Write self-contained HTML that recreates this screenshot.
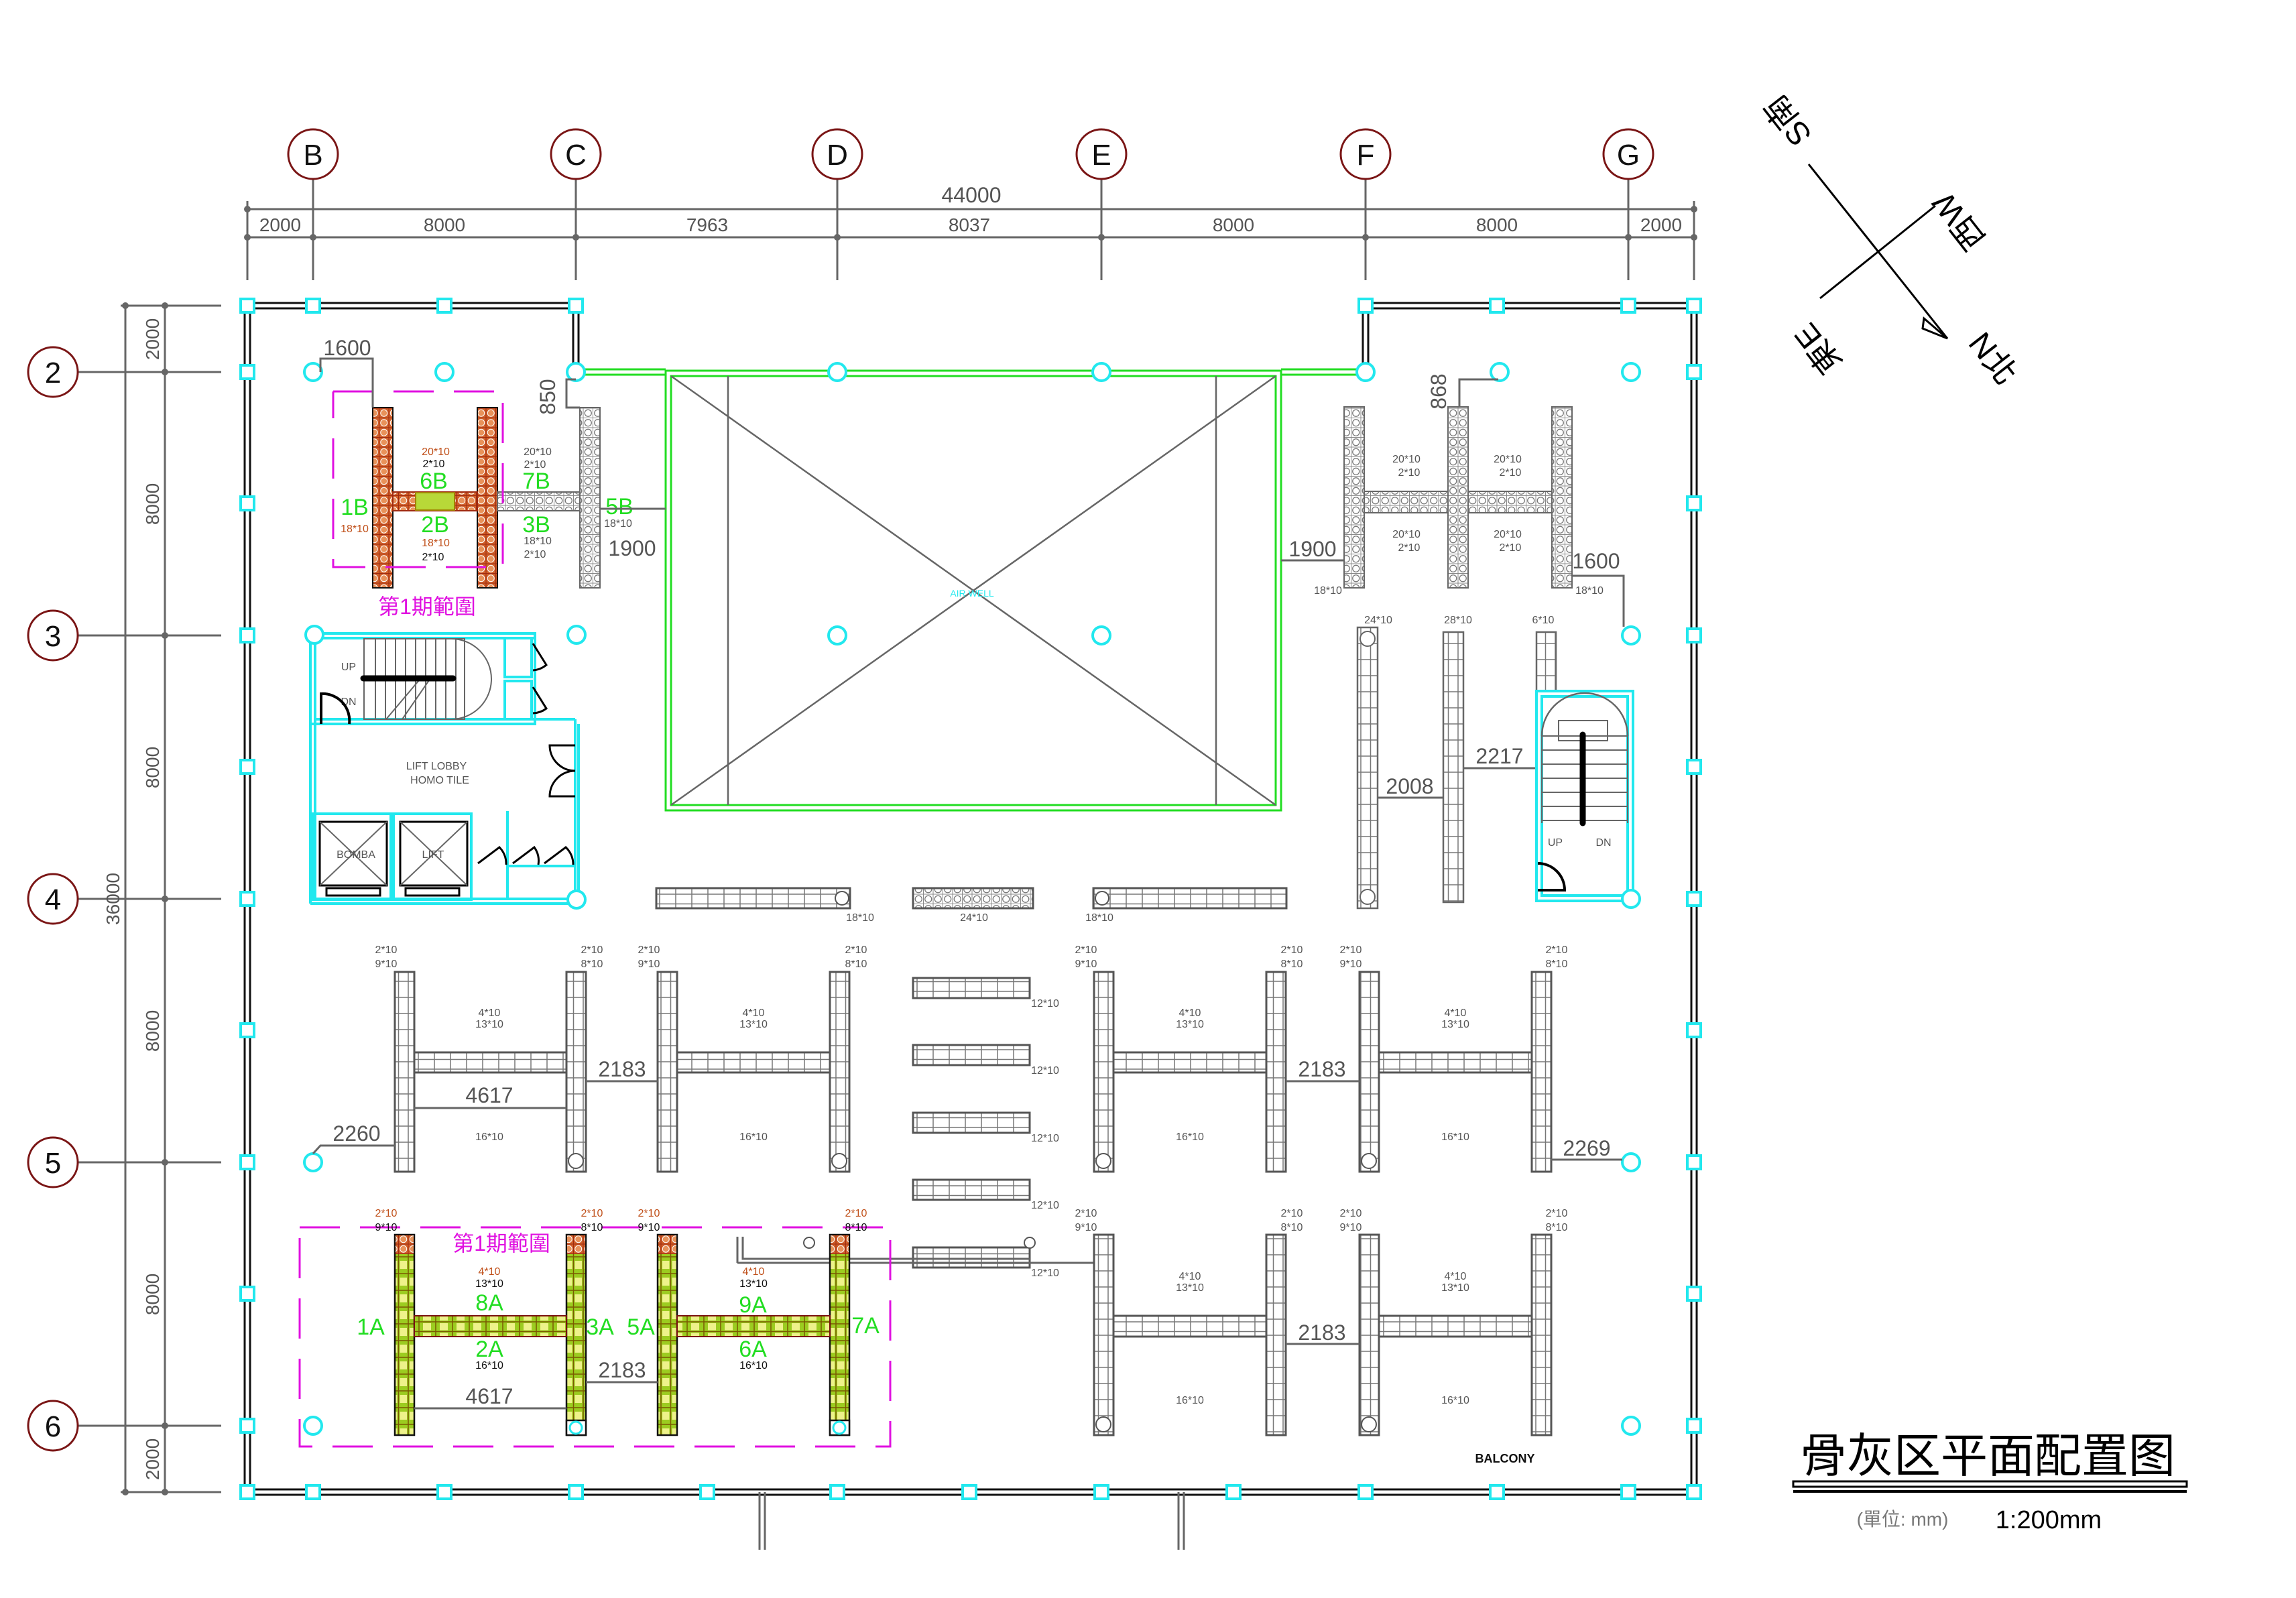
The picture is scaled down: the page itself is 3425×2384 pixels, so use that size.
<!DOCTYPE html>
<html><head><meta charset="utf-8"><style>
html,body{margin:0;padding:0;background:#fff}
svg{display:block}
text{font-family:"Liberation Sans Narrow","Liberation Sans","Noto Sans CJK TC",sans-serif}
.d{fill:#555;font-size:32px;text-anchor:middle}
.s{fill:#555;font-size:16px;text-anchor:middle}
.so{fill:#c0501a;font-size:16px;text-anchor:middle}
.sk{fill:#111;font-size:16px;text-anchor:middle}
.g{fill:#22dd22;font-size:34px;text-anchor:middle}
.m{fill:#e010e0;font-size:32px;text-anchor:middle;font-family:"Liberation Sans","Noto Sans CJK TC",sans-serif}
.b{fill:#111;font-size:44px;text-anchor:middle}
.dl{stroke:#666;stroke-width:3;fill:none}
.cy{stroke:#22e8ee;stroke-width:4;fill:none}
.cyc{stroke:#22e8ee;stroke-width:4;fill:#fff}
.rk{stroke:#555;stroke-width:3}
</style></head><body>
<svg width="3425" height="2384" viewBox="0 0 3425 2384" xmlns="http://www.w3.org/2000/svg">
<defs>
<pattern id="pg" width="14.5" height="24" patternUnits="userSpaceOnUse"><rect width="14.5" height="24" fill="#fff" stroke="#777" stroke-width="1.5"/></pattern>
<pattern id="pgh" width="24" height="14.5" patternUnits="userSpaceOnUse"><rect width="24" height="14.5" fill="#fff" stroke="#777" stroke-width="1.5"/></pattern>
<pattern id="pc" width="14.5" height="14.5" patternUnits="userSpaceOnUse"><rect width="14.5" height="14.5" fill="#fff" stroke="#888" stroke-width="1"/><circle cx="7.25" cy="7.25" r="5" fill="none" stroke="#777" stroke-width="1.3"/></pattern>
<pattern id="po" width="14.5" height="14.5" patternUnits="userSpaceOnUse"><rect width="14.5" height="14.5" fill="#d0602a" stroke="#a02a10" stroke-width="1"/><circle cx="7.25" cy="7.25" r="5" fill="#e8925a" stroke="#fff" stroke-width="1"/></pattern>
<pattern id="pgr" width="14.5" height="25" patternUnits="userSpaceOnUse"><rect width="14.5" height="25" fill="#9ccc20" stroke="#7a5a00" stroke-width="1.5"/><rect x="2" y="6" width="10.5" height="12" fill="#eef28a"/></pattern>
<pattern id="pgrh" width="25" height="14.5" patternUnits="userSpaceOnUse"><rect width="25" height="14.5" fill="#9ccc20" stroke="#7a5a00" stroke-width="1.5"/><rect x="6" y="2" width="12" height="10.5" fill="#eef28a"/></pattern>
</defs>

<!-- dimension lines top -->
<g class="dl">
<line x1="369" y1="312" x2="2527" y2="312"/><line x1="369" y1="354" x2="2527" y2="354"/>
<line x1="369" y1="300" x2="369" y2="418"/><line x1="467" y1="267" x2="467" y2="418"/>
<line x1="859" y1="267" x2="859" y2="418"/><line x1="1249" y1="267" x2="1249" y2="418"/>
<line x1="1643" y1="267" x2="1643" y2="418"/><line x1="2037" y1="267" x2="2037" y2="418"/>
<line x1="2429" y1="267" x2="2429" y2="418"/><line x1="2527" y1="300" x2="2527" y2="418"/>
<line x1="187" y1="456" x2="187" y2="2226"/><line x1="246" y1="456" x2="246" y2="2226"/>
<line x1="180" y1="456" x2="330" y2="456"/><line x1="116" y1="555" x2="330" y2="555"/>
<line x1="116" y1="948" x2="330" y2="948"/><line x1="116" y1="1341" x2="330" y2="1341"/>
<line x1="116" y1="1734" x2="330" y2="1734"/><line x1="116" y1="2127" x2="330" y2="2127"/>
<line x1="180" y1="2226" x2="330" y2="2226"/>
</g>
<g fill="#666">
<circle cx="369" cy="312" r="5"/><circle cx="2527" cy="312" r="5"/>
<circle cx="369" cy="354" r="5"/><circle cx="467" cy="354" r="5"/><circle cx="859" cy="354" r="5"/><circle cx="1249" cy="354" r="5"/><circle cx="1643" cy="354" r="5"/><circle cx="2037" cy="354" r="5"/><circle cx="2429" cy="354" r="5"/><circle cx="2527" cy="354" r="5"/>
<circle cx="187" cy="456" r="5"/><circle cx="187" cy="2226" r="5"/>
<circle cx="246" cy="456" r="5"/><circle cx="246" cy="555" r="5"/><circle cx="246" cy="948" r="5"/><circle cx="246" cy="1341" r="5"/><circle cx="246" cy="1734" r="5"/><circle cx="246" cy="2127" r="5"/><circle cx="246" cy="2226" r="5"/>
</g>
<text class="d" x="1449" y="302" font-size="28">44000</text>
<g class="d" style="font-size:28px">
<text x="418" y="345">2000</text><text x="663" y="345">8000</text><text x="1055" y="345">7963</text><text x="1446" y="345">8037</text><text x="1840" y="345">8000</text><text x="2233" y="345">8000</text><text x="2478" y="345">2000</text>
</g>
<g class="d" style="font-size:28px">
<text transform="translate(237,506) rotate(-90)">2000</text>
<text transform="translate(237,752) rotate(-90)">8000</text>
<text transform="translate(237,1145) rotate(-90)">8000</text>
<text transform="translate(237,1538) rotate(-90)">8000</text>
<text transform="translate(237,1931) rotate(-90)">8000</text>
<text transform="translate(237,2177) rotate(-90)">2000</text>
<text transform="translate(178,1341) rotate(-90)">36000</text>
</g>
<g fill="#fff" stroke="#7a1515" stroke-width="3">
<circle cx="467" cy="230" r="37"/><circle cx="859" cy="230" r="37"/><circle cx="1249" cy="230" r="37"/><circle cx="1643" cy="230" r="37"/><circle cx="2037" cy="230" r="37"/><circle cx="2429" cy="230" r="37"/>
<circle cx="79" cy="555" r="37"/><circle cx="79" cy="948" r="37"/><circle cx="79" cy="1341" r="37"/><circle cx="79" cy="1734" r="37"/><circle cx="79" cy="2127" r="37"/>
</g>
<g class="b">
<text x="467" y="246">B</text><text x="859" y="246">C</text><text x="1249" y="246">D</text><text x="1643" y="246">E</text><text x="2037" y="246">F</text><text x="2429" y="246">G</text>
<text x="79" y="571">2</text><text x="79" y="964">3</text><text x="79" y="1357">4</text><text x="79" y="1750">5</text><text x="79" y="2143">6</text>
</g>

<g fill="none" stroke="#111" stroke-width="3">
<polyline points="365,2230 365,452 863,452 863,555"/>
<polyline points="373,2222 373,460 855,460 855,555"/>
<polyline points="2033,555 2033,452 2531,452 2531,2230 365,2230"/>
<polyline points="2041,555 2041,460 2523,460 2523,2222 373,2222"/>
</g>
<g stroke="#666" stroke-width="3">
<line x1="1133" y1="2226" x2="1133" y2="2312"/><line x1="1141" y1="2226" x2="1141" y2="2312"/>
<line x1="1758" y1="2226" x2="1758" y2="2312"/><line x1="1766" y1="2226" x2="1766" y2="2312"/>
</g>
<g fill="none" stroke="#22dd22" stroke-width="3">
<line x1="859" y1="551" x2="993" y2="551"/><line x1="859" y1="559" x2="993" y2="559"/>
<line x1="1911" y1="551" x2="2037" y2="551"/><line x1="1911" y1="559" x2="2037" y2="559"/>
<rect x="993" y="553" width="918" height="656"/><rect x="1001" y="561" width="902" height="640"/>
</g>
<g stroke="#666" stroke-width="2.5">
<line x1="1086" y1="561" x2="1086" y2="1201"/><line x1="1814" y1="561" x2="1814" y2="1201"/>
<line x1="1001" y1="561" x2="1903" y2="1201"/><line x1="1903" y1="561" x2="1001" y2="1201"/>
</g>
<text x="1450" y="890" fill="#22e8ee" font-size="14" text-anchor="middle">AIR WELL</text>

<g fill="#fff" stroke="#22e8ee" stroke-width="4">
<rect x="359" y="446" width="20" height="20"/><rect x="457" y="446" width="20" height="20"/><rect x="653" y="446" width="20" height="20"/><rect x="849" y="446" width="20" height="20"/>
<rect x="2027" y="446" width="20" height="20"/><rect x="2223" y="446" width="20" height="20"/><rect x="2419" y="446" width="20" height="20"/><rect x="2517" y="446" width="20" height="20"/>
<rect x="359" y="545" width="20" height="20"/><rect x="359" y="741" width="20" height="20"/><rect x="359" y="938" width="20" height="20"/><rect x="359" y="1134" width="20" height="20"/><rect x="359" y="1331" width="20" height="20"/><rect x="359" y="1527" width="20" height="20"/><rect x="359" y="1724" width="20" height="20"/><rect x="359" y="1920" width="20" height="20"/><rect x="359" y="2117" width="20" height="20"/>
<rect x="2517" y="545" width="20" height="20"/><rect x="2517" y="741" width="20" height="20"/><rect x="2517" y="938" width="20" height="20"/><rect x="2517" y="1134" width="20" height="20"/><rect x="2517" y="1331" width="20" height="20"/><rect x="2517" y="1527" width="20" height="20"/><rect x="2517" y="1724" width="20" height="20"/><rect x="2517" y="1920" width="20" height="20"/><rect x="2517" y="2117" width="20" height="20"/>
<rect x="359" y="2216" width="20" height="20"/><rect x="457" y="2216" width="20" height="20"/><rect x="653" y="2216" width="20" height="20"/><rect x="849" y="2216" width="20" height="20"/><rect x="1045" y="2216" width="20" height="20"/><rect x="1239" y="2216" width="20" height="20"/><rect x="1436" y="2216" width="20" height="20"/><rect x="1633" y="2216" width="20" height="20"/><rect x="1830" y="2216" width="20" height="20"/><rect x="2027" y="2216" width="20" height="20"/><rect x="2223" y="2216" width="20" height="20"/><rect x="2419" y="2216" width="20" height="20"/><rect x="2517" y="2216" width="20" height="20"/>
</g>
<g fill="#fff" stroke="#22e8ee" stroke-width="4">
<circle cx="467" cy="555" r="13"/><circle cx="663" cy="555" r="13"/><circle cx="859" cy="555" r="13"/><circle cx="1249" cy="555" r="13"/><circle cx="1643" cy="555" r="13"/><circle cx="2037" cy="555" r="13"/><circle cx="2237" cy="555" r="13"/><circle cx="2433" cy="555" r="13"/>
<circle cx="1249" cy="948" r="13"/><circle cx="1643" cy="948" r="13"/><circle cx="2433" cy="948" r="13"/>
<circle cx="467" cy="1734" r="13"/><circle cx="2433" cy="1734" r="13"/>
<circle cx="467" cy="2127" r="13"/><circle cx="2433" cy="2127" r="13"/>
</g>

<rect x="556" y="608" width="30" height="269" fill="url(#po)" stroke="#111" stroke-width="2"/>
<rect x="712" y="608" width="30" height="269" fill="url(#po)" stroke="#111" stroke-width="2"/>
<rect x="586" y="734" width="126" height="28" fill="url(#po)" stroke="#a02a10" stroke-width="2"/>
<rect x="620" y="735" width="58" height="26" fill="#b8d838" stroke="#a08000" stroke-width="2"/>
<rect x="865" y="608" width="30" height="269" fill="url(#pc)" stroke="#666" stroke-width="2"/>
<rect x="742" y="734" width="123" height="28" fill="url(#pc)" stroke="#666" stroke-width="2"/>
<g stroke="#e010e0" stroke-width="3" stroke-dasharray="60,30" fill="none">
<polyline points="497,584 750,584 750,846 497,846 497,584"/>
</g>
<text class="m" x="637" y="916">第1期範圍</text>
<text class="g" x="529" y="768">1B</text><text class="g" x="647" y="729">6B</text><text class="g" x="649" y="794">2B</text>
<text class="g" x="800" y="729">7B</text><text class="g" x="800" y="794">3B</text><text class="g" x="924" y="767">5B</text>
<text class="so" x="650" y="679">20*10</text><text class="sk" x="647" y="697">2*10</text>
<text class="so" x="529" y="794">18*10</text>
<text class="so" x="650" y="815">18*10</text><text class="sk" x="646" y="836">2*10</text>
<text class="s" x="802" y="679">20*10</text><text class="s" x="798" y="698">2*10</text>
<text class="s" x="802" y="812">18*10</text><text class="s" x="798" y="832">2*10</text>
<text class="s" x="922" y="786">18*10</text>
<polyline class="dl" points="478,555 478,535 556,535 556,608"/>
<text class="d" x="518" y="530">1600</text>
<polyline class="dl" points="859,566 845,566 845,608 865,608"/>
<text class="d" transform="translate(828,592) rotate(-90)">850</text>
<line class="dl" x1="895" y1="759" x2="993" y2="759"/>
<text class="d" x="943" y="829">1900</text>

<g fill="url(#pc)" stroke="#666" stroke-width="2">
<rect x="2005" y="607" width="30" height="270"/><rect x="2160" y="607" width="30" height="270"/><rect x="2315" y="607" width="30" height="270"/>
<rect x="2035" y="733" width="125" height="32"/><rect x="2190" y="733" width="125" height="32"/>
</g>
<g class="s"><text x="2098" y="690">20*10</text><text x="2102" y="710">2*10</text><text x="2249" y="690">20*10</text><text x="2253" y="710">2*10</text>
<text x="2098" y="802">20*10</text><text x="2102" y="822">2*10</text><text x="2249" y="802">20*10</text><text x="2253" y="822">2*10</text>
<text x="1981" y="886">18*10</text><text x="2371" y="886">18*10</text></g>
<line class="dl" x1="1911" y1="836" x2="2005" y2="836"/><text class="d" x="1958" y="830">1900</text>
<polyline class="dl" points="2345,859 2422,859 2422,935"/><text class="d" x="2381" y="848">1600</text>
<polyline class="dl" points="2235,566 2177,566 2177,607"/><text class="d" transform="translate(2157,584) rotate(-90)">868</text>

<g fill="url(#pg)" stroke="#666" stroke-width="2.5">
<rect x="2025" y="936" width="30" height="419"/><rect x="2153" y="943" width="30" height="403"/><rect x="2292" y="943" width="29" height="88"/>
</g>
<g fill="#fff" stroke="#666" stroke-width="2"><circle cx="2040" cy="953" r="11"/><circle cx="2040" cy="1338" r="11"/></g>
<g class="s"><text x="2056" y="930">24*10</text><text x="2175" y="930">28*10</text><text x="2302" y="930">6*10</text></g>
<line class="dl" x1="2055" y1="1190" x2="2153" y2="1190"/><text class="d" x="2103" y="1184">2008</text>
<line class="dl" x1="2183" y1="1146" x2="2292" y2="1146"/><text class="d" x="2237" y="1139">2217</text>
<rect class="cy" x="2292" y="1031" width="144" height="313"/><rect class="cy" x="2300" y="1039" width="128" height="297"/>
<path d="M2300,1098 A64,64 0 0 1 2428,1098" fill="none" stroke="#666" stroke-width="2.5"/>
<rect x="2325" y="1075" width="73" height="30" fill="none" stroke="#666" stroke-width="2"/>
<g stroke="#666" stroke-width="2"><line x1="2300" y1="1098" x2="2428" y2="1098"/><line x1="2300" y1="1119" x2="2428" y2="1119"/><line x1="2300" y1="1140" x2="2428" y2="1140"/><line x1="2300" y1="1161" x2="2428" y2="1161"/><line x1="2300" y1="1182" x2="2428" y2="1182"/><line x1="2300" y1="1203" x2="2428" y2="1203"/><line x1="2300" y1="1224" x2="2428" y2="1224"/><line x1="2300" y1="1098" x2="2300" y2="1228"/><line x1="2428" y1="1098" x2="2428" y2="1228"/></g>
<line x1="2361" y1="1096" x2="2361" y2="1228" stroke="#000" stroke-width="9" stroke-linecap="round"/>
<text class="s" x="2320" y="1262" font-size="20">UP</text><text class="s" x="2392" y="1262" font-size="20">DN</text>
<path d="M2294,1288 A40,40 0 0 1 2334,1328 L2294,1328" fill="none" stroke="#000" stroke-width="4"/>
<circle class="cyc" cx="2433" cy="1341" r="13"/>

<g class="cy">
<rect x="463" y="945" width="335" height="135"/><line x1="470" y1="952" x2="470" y2="1343"/>
<line x1="470" y1="952" x2="798" y2="952"/><line x1="470" y1="1073" x2="858" y2="1073"/>
<line x1="463" y1="1080" x2="463" y2="1348"/><line x1="463" y1="1348" x2="863" y2="1348"/><line x1="470" y1="1341" x2="856" y2="1341"/>
<line x1="858" y1="1073" x2="858" y2="1341"/><line x1="863" y1="1080" x2="863" y2="1348"/>
<rect x="753" y="952" width="40" height="58"/><rect x="753" y="1016" width="40" height="57"/>
<rect x="466" y="1214" width="117" height="128"/><rect x="587" y="1214" width="116" height="128"/>
<line x1="757" y1="1292" x2="857" y2="1292"/><line x1="757" y1="1210" x2="757" y2="1341"/>
</g>
<g stroke="#666" stroke-width="2" fill="none">
<rect x="543" y="953" width="150" height="120"/>
<line x1="560" y1="953" x2="560" y2="1073"/><line x1="575" y1="953" x2="575" y2="1073"/><line x1="590" y1="953" x2="590" y2="1073"/><line x1="605" y1="953" x2="605" y2="1073"/><line x1="620" y1="953" x2="620" y2="1073"/><line x1="635" y1="953" x2="635" y2="1073"/><line x1="650" y1="953" x2="650" y2="1073"/><line x1="665" y1="953" x2="665" y2="1073"/><line x1="680" y1="953" x2="680" y2="1073"/>
<path d="M673,953 A60,60 0 0 1 673,1073"/>
<line x1="576" y1="1073" x2="625" y2="1015"/><line x1="600" y1="1073" x2="640" y2="1015"/>
</g>
<line x1="542" y1="1012" x2="676" y2="1012" stroke="#000" stroke-width="9" stroke-linecap="round"/>
<text class="s" x="520" y="1000" font-size="18">UP</text><text class="s" x="520" y="1052" font-size="18">DN</text>
<path d="M479,1080 L479,1035 A40,40 0 0 1 521,1080" fill="none" stroke="#000" stroke-width="4"/>
<g stroke="#000" stroke-width="3" fill="none">
<rect x="477" y="1226" width="100" height="95"/><rect x="597" y="1226" width="100" height="95"/>
<rect x="487" y="1325" width="80" height="11"/><rect x="605" y="1325" width="80" height="11"/>
<path d="M858,1112 L820,1112 A38,38 0 0 0 858,1150 A38,38 0 0 0 820,1188 L858,1188"/>
<path d="M795,960 L815,992 A35,35 0 0 1 795,1000 M795,1025 L815,1057 A35,35 0 0 1 795,1064"/>
<path d="M713,1288 L745,1264 A35,35 0 0 1 755,1290 M765,1288 L797,1264 A35,35 0 0 1 803,1290 M812,1288 L844,1264 A35,35 0 0 1 855,1290"/>
</g>
<g stroke="#666" stroke-width="2"><line x1="477" y1="1226" x2="577" y2="1321"/><line x1="577" y1="1226" x2="477" y2="1321"/><line x1="597" y1="1226" x2="697" y2="1321"/><line x1="697" y1="1226" x2="597" y2="1321"/></g>
<text class="s" x="531" y="1280" font-size="14">BOMBA</text><text class="s" x="646" y="1280" font-size="14">LIFT</text>
<text class="s" x="651" y="1148" font-size="18">LIFT LOBBY</text><text class="s" x="656" y="1169" font-size="12">HOMO TILE</text>
<circle class="cyc" cx="469" cy="947" r="13"/><circle class="cyc" cx="860" cy="947" r="13"/><circle class="cyc" cx="860" cy="1342" r="13"/>

<rect x="979" y="1325" width="289" height="30" fill="url(#pgh)" class="rk" stroke-width="3"/>
<circle cx="1256" cy="1340" r="10" fill="#fff" stroke="#555" stroke-width="2"/>
<rect x="1362" y="1325" width="179" height="30" fill="url(#pc)" class="rk"/>
<rect x="1631" y="1325" width="288" height="30" fill="url(#pgh)" class="rk"/>
<circle cx="1644" cy="1340" r="10" fill="#fff" stroke="#555" stroke-width="2"/>
<g class="s"><text x="1283" y="1374">18*10</text><text x="1453" y="1374">24*10</text><text x="1640" y="1374">18*10</text></g>
<g fill="url(#pgh)" class="rk">
<rect x="1362" y="1459" width="174" height="30"/><rect x="1362" y="1559" width="174" height="30"/><rect x="1362" y="1660" width="174" height="30"/><rect x="1362" y="1760" width="174" height="30"/><rect x="1362" y="1861" width="174" height="30"/>
</g>
<g class="s"><text x="1559" y="1502">12*10</text><text x="1559" y="1602">12*10</text><text x="1559" y="1703">12*10</text><text x="1559" y="1803">12*10</text><text x="1559" y="1904">12*10</text></g>
<polyline class="dl" points="1108,1845 1108,1878 1536,1878"/><line class="dl" x1="1100" y1="1845" x2="1100" y2="1884"/><line class="dl" x1="1100" y1="1884" x2="1640" y2="1884"/>
<circle cx="1207" cy="1854" r="8" fill="#fff" stroke="#555" stroke-width="2"/><circle cx="1536" cy="1854" r="8" fill="#fff" stroke="#555" stroke-width="2"/>

<g fill="url(#pg)" class="rk">
<rect x="589" y="1450" width="29" height="298"/><rect x="845" y="1450" width="29" height="298"/><rect x="618" y="1570" width="227" height="30" fill="url(#pgh)"/>
<rect x="981" y="1450" width="29" height="298"/><rect x="1238" y="1450" width="29" height="298"/><rect x="1010" y="1570" width="228" height="30" fill="url(#pgh)"/>
<rect x="1632" y="1450" width="29" height="298"/><rect x="1889" y="1450" width="29" height="298"/><rect x="1661" y="1570" width="228" height="30" fill="url(#pgh)"/>
<rect x="2028" y="1450" width="29" height="298"/><rect x="2285" y="1450" width="29" height="298"/><rect x="2057" y="1570" width="228" height="30" fill="url(#pgh)"/>
<rect x="1632" y="1842" width="29" height="299"/><rect x="1889" y="1842" width="29" height="299"/><rect x="1661" y="1963" width="228" height="31" fill="url(#pgh)"/>
<rect x="2028" y="1842" width="29" height="299"/><rect x="2285" y="1842" width="29" height="299"/><rect x="2057" y="1963" width="228" height="31" fill="url(#pgh)"/>
</g>
<g fill="#fff" stroke="#555" stroke-width="2">
<circle cx="859" cy="1732" r="11"/><circle cx="1252" cy="1732" r="11"/><circle cx="1646" cy="1732" r="11"/><circle cx="2042" cy="1732" r="11"/><circle cx="1646" cy="2125" r="11"/><circle cx="2042" cy="2125" r="11"/>
</g>
<g class="s">
<text x="576" y="1422">2*10</text><text x="576" y="1443">9*10</text><text x="883" y="1422">2*10</text><text x="883" y="1443">8*10</text>
<text x="968" y="1422">2*10</text><text x="968" y="1443">9*10</text><text x="1277" y="1422">2*10</text><text x="1277" y="1443">8*10</text>
<text x="1620" y="1422">2*10</text><text x="1620" y="1443">9*10</text><text x="1927" y="1422">2*10</text><text x="1927" y="1443">8*10</text>
<text x="2015" y="1422">2*10</text><text x="2015" y="1443">9*10</text><text x="2322" y="1422">2*10</text><text x="2322" y="1443">8*10</text>
<text x="1620" y="1815">2*10</text><text x="1620" y="1836">9*10</text><text x="1927" y="1815">2*10</text><text x="1927" y="1836">8*10</text>
<text x="2015" y="1815">2*10</text><text x="2015" y="1836">9*10</text><text x="2322" y="1815">2*10</text><text x="2322" y="1836">8*10</text>
<text x="730" y="1516">4*10</text><text x="730" y="1533">13*10</text><text x="730" y="1701">16*10</text>
<text x="1124" y="1516">4*10</text><text x="1124" y="1533">13*10</text><text x="1124" y="1701">16*10</text>
<text x="1775" y="1516">4*10</text><text x="1775" y="1533">13*10</text><text x="1775" y="1701">16*10</text>
<text x="2171" y="1516">4*10</text><text x="2171" y="1533">13*10</text><text x="2171" y="1701">16*10</text>
<text x="1775" y="1909">4*10</text><text x="1775" y="1926">13*10</text><text x="1775" y="2094">16*10</text>
<text x="2171" y="1909">4*10</text><text x="2171" y="1926">13*10</text><text x="2171" y="2094">16*10</text>
</g>
<g class="dl">
<line x1="618" y1="1653" x2="845" y2="1653"/><line x1="874" y1="1613" x2="981" y2="1613"/>
<polyline points="467,1721 478,1709 589,1709"/>
<line x1="1918" y1="1613" x2="2028" y2="1613"/><polyline points="2314,1730 2420,1730"/>
<line x1="1918" y1="2005" x2="2028" y2="2005"/>
</g>
<text class="d" x="730" y="1645">4617</text><text class="d" x="928" y="1606">2183</text><text class="d" x="532" y="1702">2260</text>
<text class="d" x="1972" y="1606">2183</text><text class="d" x="2367" y="1724">2269</text><text class="d" x="1972" y="1999">2183</text>

<g stroke="#111" stroke-width="2.5" fill="url(#pgr)">
<rect x="589" y="1842" width="29" height="299"/><rect x="845" y="1842" width="29" height="299"/>
<rect x="981" y="1842" width="29" height="299"/><rect x="1238" y="1842" width="29" height="299"/>
</g>
<g stroke="#7a1010" stroke-width="2" fill="url(#pgrh)">
<rect x="618" y="1963" width="227" height="31"/><rect x="1010" y="1963" width="228" height="31"/>
</g>
<g fill="url(#po)"><rect x="590" y="1843" width="27" height="28"/><rect x="846" y="1843" width="27" height="28"/><rect x="982" y="1843" width="27" height="28"/><rect x="1239" y="1843" width="27" height="28"/></g>
<g fill="#fff" stroke="#111" stroke-width="2.5"><rect x="845" y="2119" width="29" height="22"/><rect x="1238" y="2119" width="29" height="22"/></g>
<g fill="#fff" stroke="#22e8ee" stroke-width="3"><circle cx="859" cy="2130" r="9"/><circle cx="1252" cy="2130" r="9"/></g>
<g stroke="#e010e0" stroke-width="3" stroke-dasharray="60,30" fill="none"><rect x="447" y="1831" width="881" height="327"/></g>
<text class="m" x="748" y="1866">第1期範圍</text>
<g class="g"><text x="553" y="1991">1A</text><text x="730" y="1955">8A</text><text x="730" y="2024">2A</text><text x="895" y="1991">3A</text><text x="956" y="1991">5A</text><text x="1123" y="1958">9A</text><text x="1123" y="2024">6A</text><text x="1291" y="1989">7A</text></g>
<g>
<text class="so" x="576" y="1815">2*10</text><text class="sk" x="576" y="1836">9*10</text><text class="so" x="883" y="1815">2*10</text><text class="sk" x="883" y="1836">8*10</text>
<text class="so" x="968" y="1815">2*10</text><text class="sk" x="968" y="1836">9*10</text><text class="so" x="1277" y="1815">2*10</text><text class="sk" x="1277" y="1836">8*10</text>
<text class="so" x="730" y="1902">4*10</text><text class="sk" x="730" y="1920">13*10</text><text class="sk" x="730" y="2042">16*10</text>
<text class="so" x="1124" y="1902">4*10</text><text class="sk" x="1124" y="1920">13*10</text><text class="sk" x="1124" y="2042">16*10</text>
</g>
<g class="dl"><line x1="874" y1="2062" x2="981" y2="2062"/><line x1="618" y1="2101" x2="845" y2="2101"/></g>
<text class="d" x="928" y="2055">2183</text><text class="d" x="730" y="2094">4617</text>

<text x="2245" y="2182" font-size="18" font-weight="bold" text-anchor="middle" fill="#111">BALCONY</text>

<g stroke="#000" stroke-width="3" fill="none">
<line x1="2698" y1="245" x2="2905" y2="505"/><line x1="2887" y1="307" x2="2715" y2="445"/>
<polygon points="2870,475 2905,505 2868,490" fill="#fff"/>
</g>
<g fill="#000" font-size="48" font-family="'Liberation Sans','Noto Sans CJK TC',sans-serif">
<text transform="translate(2680,170) rotate(-128)" text-anchor="middle">S南</text>
<text transform="translate(2935,320) rotate(-128)" text-anchor="middle">西W</text>
<text transform="translate(2725,510) rotate(-128)" text-anchor="middle">東E</text>
<text transform="translate(2960,545) rotate(52)" text-anchor="middle">N北</text>
</g>

<text x="2965" y="2196" font-size="70" text-anchor="middle" fill="#000" font-family="'Noto Sans CJK SC',sans-serif">骨灰区平面配置图</text>
<rect x="2675" y="2210" width="587" height="8" fill="none" stroke="#000" stroke-width="3"/>
<rect x="2675" y="2223" width="587" height="4" fill="#000"/>
<text x="2838" y="2276" font-size="28" text-anchor="middle" fill="#777" font-family="'Liberation Sans','Noto Sans CJK TC',sans-serif">(單位: mm)</text>
<text x="3056" y="2280" font-size="38" text-anchor="middle" fill="#000">1:200mm</text>
</svg>
</body></html>
